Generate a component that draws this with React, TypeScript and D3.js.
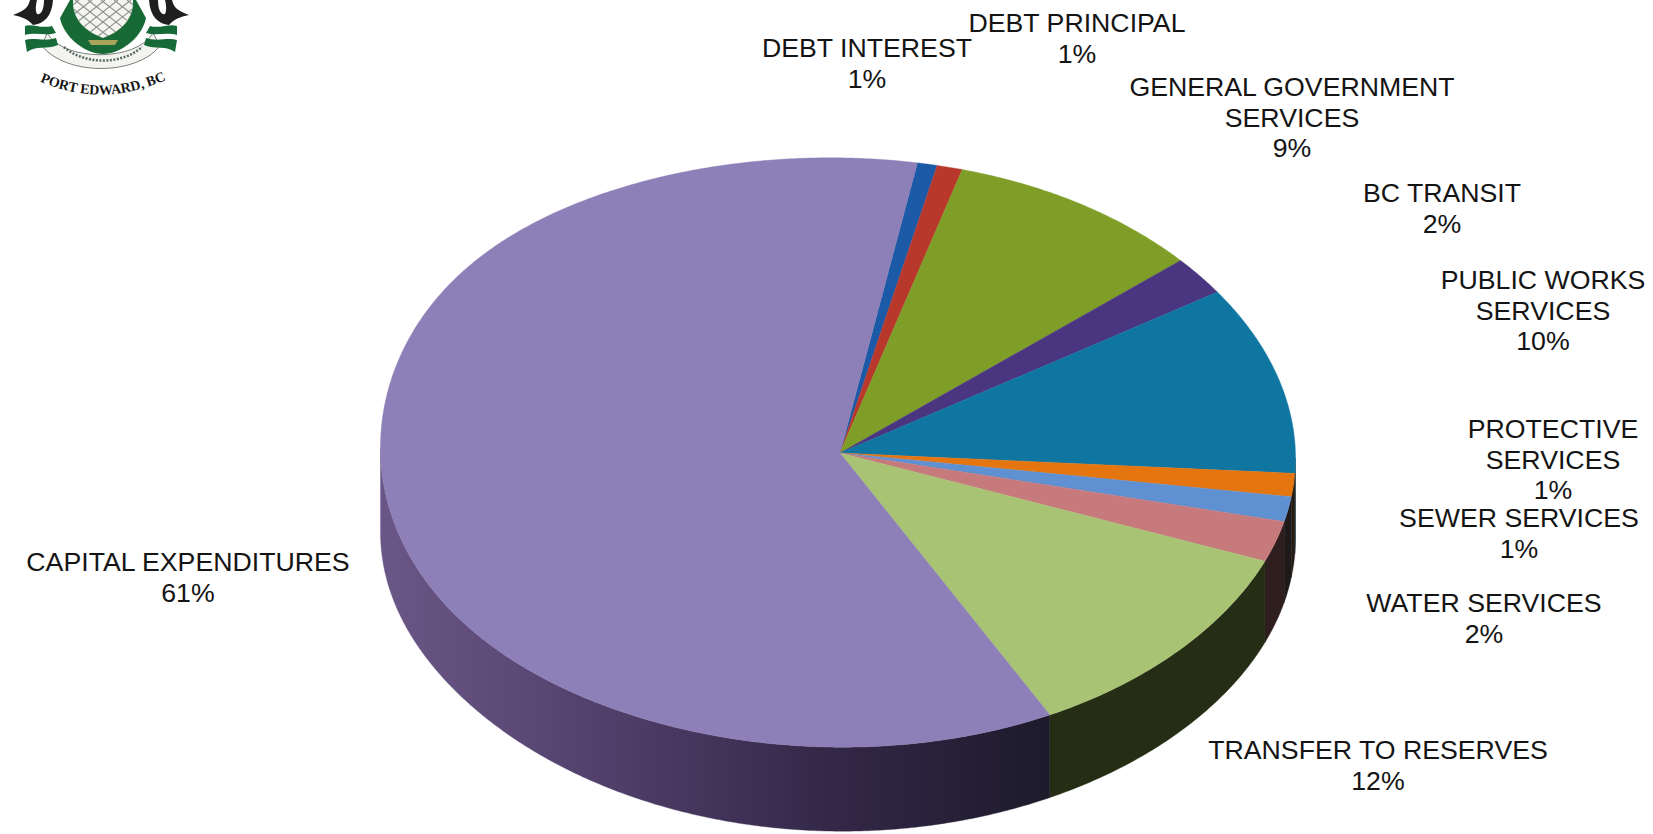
import React from "react";
import * as d3 from "d3";

// Budget shares, in percent, clockwise from the top of the pie.
const categories = [
  "DEBT INTEREST",
  "DEBT PRINCIPAL",
  "GENERAL GOVERNMENT SERVICES",
  "BC TRANSIT",
  "PUBLIC WORKS SERVICES",
  "PROTECTIVE SERVICES",
  "SEWER SERVICES",
  "WATER SERVICES",
  "TRANSFER TO RESERVES",
  "CAPITAL EXPENDITURES",
];
const shares = [0.7, 0.9, 9.1, 2.1, 10.3, 1.3, 1.4, 2.3, 11.5, 60.5];
const topColors = [
  "#1c5aa8", "#b8382c", "#7e9e27", "#4a3581", "#0f76a2",
  "#e5750f", "#5f90d2", "#c77a7c", "#a9c375", "#8d7fb7",
];
const sideColors = [
  "#0e2c52", "#5a1c16", "#3d4d13", "#241a40", "#0a2a3a",
  "#231a12", "#1f1a1a", "#2e1f1e", "#252d14", "url(#capitalSide)",
];

// How each category name breaks over lines.
const labelLines = [
  ["DEBT INTEREST"],
  ["DEBT PRINCIPAL"],
  ["GENERAL GOVERNMENT", "SERVICES"],
  ["BC TRANSIT"],
  ["PUBLIC WORKS", "SERVICES"],
  ["PROTECTIVE", "SERVICES"],
  ["SEWER SERVICES"],
  ["WATER SERVICES"],
  ["TRANSFER TO RESERVES"],
  ["CAPITAL EXPENDITURES"],
];

// Layout
const WIDTH = 1653;
const HEIGHT = 834;
const CX = 838;
const CY = 452;
const RX = 457.5;
const RY = 295;
const HUB: [number, number] = [840, 453];
const START_ANGLE = (10 * Math.PI) / 180;
const LABEL_SIZE = 26.7;
const LINE_GAP = 30.5;
const labelAnchors: [number, number][] = [
  [867, 57],
  [1077, 32],
  [1292, 96],
  [1442, 202],
  [1543, 289],
  [1553, 438],
  [1519, 527],
  [1484, 612],
  [1378, 759],
  [188, 571],
];

const DEG = Math.PI / 180;

// The disc is drawn in an oblique view, so its rim departs a little from a true
// ellipse; these smooth curves give the vertical correction and the wall height,
// sampled every 30 degrees of bearing.
const rimShiftCurve = d3.interpolateBasisClosed([2, 1, 6, 7, 1, 2, 0, -1, 3, -4, -16, -4]);
const wallDepthCurve = d3.interpolateBasis([80, 82, 82, 85, 82, 72, 85]);

const wrapDeg = (a: number) => ((a / DEG) % 360 + 360) % 360;
const rimX = (a: number) => CX + RX * Math.sin(a);
const rimY = (a: number) => CY - RY * Math.cos(a) + rimShiftCurve(wrapDeg(a) / 360);
const depthAt = (a: number) => wallDepthCurve((wrapDeg(a) - 90) / 180);

const pieLayout = d3
  .pie<number>()
  .sort(null)
  .startAngle(START_ANGLE)
  .endAngle(START_ANGLE + 2 * Math.PI);

function sampleAngles(lo: number, hi: number): number[] {
  const steps = Math.max(2, Math.ceil((hi - lo) / 0.008));
  return d3.range(steps + 1).map((i) => lo + ((hi - lo) * i) / steps);
}

const polyline = d3.line<[number, number]>();

function facePath(start: number, end: number): string {
  const rim = sampleAngles(start, end).map((a) => [rimX(a), rimY(a)] as [number, number]);
  return `${polyline([HUB, ...rim])}Z`;
}

const wall = d3
  .area<number>()
  .x(rimX)
  .y0(rimY)
  .y1((a) => rimY(a) + depthAt(a));

// Only the part of a slice's rim between 3 and 9 o'clock faces the viewer.
function wallPath(start: number, end: number): string | null {
  const lo = Math.max(start, Math.PI / 2);
  const hi = Math.min(end, (3 * Math.PI) / 2);
  return hi > lo ? wall(sampleAngles(lo, hi)) : null;
}

// The town crest in the page corner, cut off by the top edge.
function Crest() {
  const lattice = d3.range(-6, 7).map((i) => i * 13);
  return (
    <g>
      <clipPath id="shieldClip">
        <path d="M73 0 H133 C134 18 122 31 103 38 C84 31 72 18 73 0 Z" />
      </clipPath>
      <path d="M47 33 C64 62 136 62 153 33 L160 46 C136 76 66 76 42 46 Z" fill="#f3f4ef" stroke="#77827a" strokeWidth={1} />
      <path d="M60 18 C64 38 86 54 103 54 C120 54 142 38 146 18 L136 0 H70 Z" fill="#176a35" />
      <path d="M73 0 H133 C134 18 122 31 103 38 C84 31 72 18 73 0 Z" fill="#f4f5f1" />
      <g clipPath="url(#shieldClip)" stroke="#8a9088" strokeWidth={1.1}>
        {lattice.map((d) => (
          <g key={d}>
            <line x1={103 + d - 28} y1={0} x2={103 + d + 28} y2={44} />
            <line x1={103 + d + 28} y1={0} x2={103 + d - 28} y2={44} />
          </g>
        ))}
      </g>
      <path d="M88 40 h30 l-3 5 h-24 Z" fill="#a8a35a" />
      <path d="M64 47 C84 65 122 65 142 47" fill="none" stroke="#5a6a66" strokeWidth={2.5} strokeDasharray="2 1.5" />
      {/* whales flanking the shield */}
      <path d="M30 0 C28 8 24 11 13 15 C22 17 28 19 33 25 C44 24 52 16 53 0 H44 C44 10 41 15 37 14 C35 10 36 4 37 0 Z" fill="#1e1f1e" />
      <path d="M172 0 C174 8 178 11 189 15 C180 17 174 19 169 25 C158 24 150 16 149 0 H158 C158 10 161 15 165 14 C167 10 166 4 165 0 Z" fill="#1e1f1e" />
      {/* waves */}
      <path d="M25 26 C32 23 40 29 52 26 L56 33 C46 36 36 32 25 35 Z" fill="#156a37" />
      <path d="M25 40 C34 37 44 42 56 38 L58 45 C46 50 36 45 27 52 Z" fill="#156a37" />
      <path d="M177 26 C170 23 160 29 150 26 L146 33 C156 36 166 32 177 35 Z" fill="#156a37" />
      <path d="M177 40 C168 37 158 42 146 38 L144 45 C156 50 166 45 175 52 Z" fill="#156a37" />
      <path id="crestCaption" d="M26 75 Q102 115 180 73" fill="none" />
      <text fontFamily="'Liberation Serif', serif" fontSize={14} fontWeight={700} fill="#151515">
        <textPath href="#crestCaption" startOffset="50%" textAnchor="middle">
          PORT EDWARD, BC
        </textPath>
      </text>
    </g>
  );
}

export default function App() {
  const slices = pieLayout(shares);
  return (
    <svg
      width={WIDTH}
      height={HEIGHT}
      viewBox={`0 0 ${WIDTH} ${HEIGHT}`}
      style={{ position: "absolute", left: 0, top: 0, display: "block", background: "#fff" }}
    >
      <defs>
        <linearGradient id="capitalSide" gradientUnits="userSpaceOnUse" x1={CX - RX} y1={0} x2={1048} y2={0}>
          <stop offset="0" stopColor="#6b5787" />
          <stop offset="0.3" stopColor="#54426e" />
          <stop offset="0.65" stopColor="#35294a" />
          <stop offset="1" stopColor="#1d1a2b" />
        </linearGradient>
      </defs>

      <Crest />

      <g>
        {slices.map((s, i) => {
          const d = wallPath(s.startAngle, s.endAngle);
          return d ? <path key={i} d={d} fill={sideColors[i]} stroke={sideColors[i]} strokeWidth={0.4} /> : null;
        })}
      </g>

      <g>
        {slices.map((s, i) => (
          <path
            key={categories[i]}
            d={facePath(s.startAngle, s.endAngle)}
            fill={topColors[i]}
            stroke={topColors[i]}
            strokeWidth={0.4}
          />
        ))}
      </g>

      <g fontFamily="'Liberation Sans', Arial, sans-serif" fontSize={LABEL_SIZE} fill="#141414" textAnchor="middle">
        {categories.map((name, i) => {
          const [x, y] = labelAnchors[i];
          const lines = [...labelLines[i], `${Math.round(shares[i])}%`];
          return (
            <text key={name} x={x} y={y}>
              {lines.map((line, j) => (
                <tspan key={j} x={x} dy={j === 0 ? 0 : LINE_GAP}>
                  {line}
                </tspan>
              ))}
            </text>
          );
        })}
      </g>
    </svg>
  );
}
